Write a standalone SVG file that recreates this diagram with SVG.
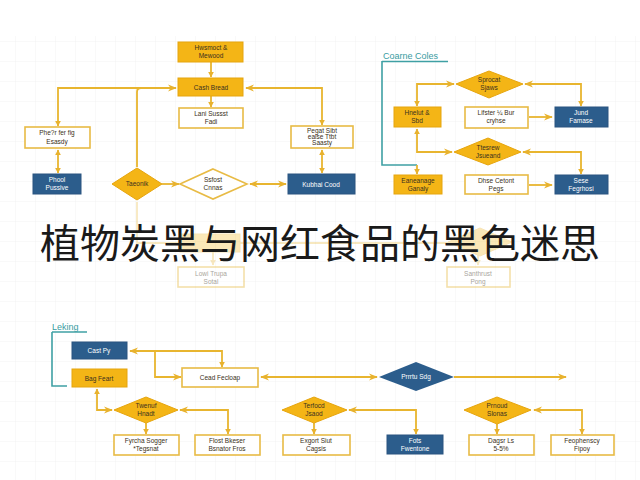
<svg xmlns="http://www.w3.org/2000/svg" width="640" height="480" viewBox="0 0 640 480">
<defs>
<pattern id="grid" width="20" height="20" patternUnits="userSpaceOnUse" x="-4" y="2">
<path d="M20 0 V20 M0 20 H20" fill="none" stroke="#f2f2f2" stroke-width="1"/>
</pattern>
<marker id="ah" viewBox="0 0 10 10" refX="9" refY="5" markerWidth="6" markerHeight="6" orient="auto-start-reverse" markerUnits="userSpaceOnUse">
<path d="M0 0 L10 5 L0 10 Z" fill="#E8B22E"/>
</marker>
<marker id="ahs" viewBox="0 0 10 10" refX="9" refY="5" markerWidth="9" markerHeight="9" orient="auto-start-reverse" markerUnits="userSpaceOnUse">
<path d="M0 1 L10 5 L0 9 L3 5 Z" fill="#E8B22E"/>
</marker>
</defs>
<style>
.ln{fill:none;stroke:#E8B52F;stroke-width:1.8}
.tl{fill:none;stroke:#3FA0A4;stroke-width:1.6}
.ob{fill:#F4B516;stroke:#E6A50E;stroke-width:1}
.wb{fill:#ffffff;stroke:#E8BB45;stroke-width:1.6}
.bb{fill:#2C5D8C;stroke:#2A5580;stroke-width:1}
.t{font-family:"Liberation Sans",Arial,sans-serif;font-size:6.5px;fill:#3a3020;text-anchor:middle}
.tw{font-family:"Liberation Sans",Arial,sans-serif;font-size:6.5px;fill:#ffffff;text-anchor:middle}
.lab{font-family:"Liberation Sans",Arial,sans-serif;font-size:9px;fill:#3A9CA2}
.title{font-family:"Noto Sans CJK SC","Noto Sans CJK TC",sans-serif;font-size:40px;fill:#1a1a1a;text-anchor:middle}
</style>
<rect width="640" height="480" fill="#ffffff"/>
<rect x="0" y="36" width="640" height="444" fill="url(#grid)"/>

<g id="connectors">
<path class="ln" d="M211 62 V77" marker-end="url(#ah)"/>
<path class="ln" d="M211 96 V107" marker-end="url(#ah)"/>
<path class="ln" d="M58 126 V88 H176" marker-start="url(#ah)" marker-end="url(#ahs)"/>
<path class="ln" d="M137 167 V92 Q137 88 141 88"/>
<path class="ln" d="M322 125 V88 H246" marker-start="url(#ah)" marker-end="url(#ahs)"/>
<path class="ln" d="M58 150 V173" marker-start="url(#ah)" marker-end="url(#ah)"/>
<path class="ln" d="M322 150 V173" marker-start="url(#ah)" marker-end="url(#ah)"/>
<path class="ln" d="M162 184 H179" marker-end="url(#ahs)"/>
<path class="ln" d="M250 184 H286" marker-start="url(#ahs)" marker-end="url(#ahs)"/>
<path class="tl" d="M382 61 V165 H417"/>
<path class="ln" d="M417 165 V174" marker-end="url(#ah)"/>
<path class="ln" d="M417 106 V84 H454" marker-start="url(#ah)" marker-end="url(#ahs)"/>
<path class="ln" d="M581 106 V84 H525" marker-start="url(#ah)" marker-end="url(#ahs)"/>
<path class="ln" d="M417 129 V152 H452" marker-start="url(#ah)" marker-end="url(#ahs)"/>
<path class="ln" d="M581 174 V152 H523" marker-start="url(#ah)" marker-end="url(#ahs)"/>
<path class="ln" d="M529 117 H552" marker-end="url(#ahs)"/>
<path class="ln" d="M529 185 H552" marker-end="url(#ahs)"/>
<path class="tl" d="M52 332 V386 H67"/>
<path class="ln" d="M222 367 V351 H130" marker-start="url(#ah)" marker-end="url(#ahs)"/>
<path class="ln" d="M155 351 V377 H181" marker-end="url(#ahs)"/>
<path class="ln" d="M261 377 H377" marker-start="url(#ahs)" marker-end="url(#ahs)"/>
<path class="ln" d="M454 377 H566" marker-end="url(#ahs)"/>
<path class="ln" d="M97 389 V410 H112" marker-start="url(#ah)" marker-end="url(#ahs)"/>
<path class="ln" d="M146 423 V434" marker-end="url(#ah)"/>
<path class="ln" d="M228 434 V410 H180" marker-start="url(#ah)" marker-end="url(#ahs)"/>
<path class="ln" d="M314 423 V434" marker-end="url(#ah)"/>
<path class="ln" d="M416 434 V410 H349" marker-start="url(#ah)" marker-end="url(#ahs)"/>
<path class="ln" d="M497 424 V434" marker-end="url(#ah)"/>
<path class="ln" d="M582 434 V410 H534" marker-start="url(#ah)" marker-end="url(#ahs)"/>
</g>

<g id="n-hemost"><rect class="ob" x="178" y="42" width="65" height="20"/><text class="t" x="211" y="50">Hwsmoct &amp;</text><text class="t" x="211" y="58">Mewood</text></g>
<g id="n-cash"><rect class="ob" x="178" y="78" width="65" height="18"/><text class="t" x="211" y="90" font-size="7.5">Cash Bread</text></g>
<g id="n-lani"><rect class="wb" x="179" y="108" width="64" height="20"/><text class="t" x="211" y="116">Lani Sussst</text><text class="t" x="211" y="124">Fadi</text></g>
<g id="n-phe"><rect class="wb" x="25" y="127" width="65" height="21"/><text class="t" x="57" y="135">Phe?r fer fig</text><text class="t" x="57" y="144">Esasdy</text></g>
<g id="n-phool"><rect class="bb" x="33" y="174" width="48" height="20"/><text class="tw" x="57" y="182">Phool</text><text class="tw" x="57" y="190">Pussive</text></g>
<g id="n-taeonik"><polygon class="ob" points="137,168 162,184 137,200 112,184"/><text class="t" x="137" y="186">Taeonik</text></g>
<g id="n-ssfost"><polygon class="wb" points="213,169 247,184 213,199 180,184"/><text class="t" x="213" y="182">Ssfost</text><text class="t" x="213" y="190">Cnnas</text></g>
<g id="n-kubhai"><rect class="bb" x="288" y="174" width="67" height="20"/><text class="tw" x="321" y="187" font-size="7">Kubhai Cood</text></g>
<g id="n-pegat"><rect class="wb" x="291" y="126" width="62" height="22"/><text class="t" x="322" y="133">Pegat Sibt</text><text class="t" x="322" y="139">ealse Ttbt</text><text class="t" x="322" y="145">Saasty</text></g>

<g id="lbl-coarne"><text class="lab" x="383" y="59">Coarne Coles</text><path class="tl" d="M382 61.5 H448"/></g>
<g id="n-sprocat"><polygon class="ob" points="489,71 523,84 489,98 456,84"/><text class="t" x="489" y="82">Sprocat</text><text class="t" x="489" y="90">Sjaws</text></g>
<g id="n-hnelut"><rect class="ob" x="394" y="107" width="47" height="20"/><text class="t" x="417" y="115">Hnelut &amp;</text><text class="t" x="417" y="123">Sbd</text></g>
<g id="n-lifster"><rect class="wb" x="465" y="107" width="63" height="21"/><text class="t" x="496" y="115">Lifster ¼ Bur</text><text class="t" x="496" y="123">cryhse</text></g>
<g id="n-jund"><rect class="bb" x="555" y="107" width="53" height="20"/><text class="tw" x="581" y="115">Jund</text><text class="tw" x="581" y="123">Famase</text></g>
<g id="n-ttesrew"><polygon class="ob" points="488,138 521,152 488,165 454,152"/><text class="t" x="488" y="150">Ttesrew</text><text class="t" x="488" y="158">Jsueand</text></g>
<g id="n-eanean"><rect class="ob" x="394" y="175" width="48" height="19"/><text class="t" x="418" y="183">Eaneanage</text><text class="t" x="418" y="191">Ganaly</text></g>
<g id="n-dhse"><rect class="wb" x="465" y="175" width="63" height="19"/><text class="t" x="496" y="183">Dhse Cetont</text><text class="t" x="496" y="191">Pegs</text></g>
<g id="n-sese"><rect class="bb" x="555" y="175" width="53" height="19"/><text class="tw" x="581" y="183">Sese</text><text class="tw" x="581" y="191">Fegrhosi</text></g>

<g id="faded" opacity="0.3">
<path class="ln" d="M137 202 V243 H470"/>
<path class="ln" d="M213 252 V265" marker-end="url(#ah)"/>
<path class="ln" d="M478 250 V265" marker-end="url(#ah)"/>
<rect class="ob" x="180" y="234" width="60" height="18"/>
<polygon class="ob" points="480,228 512,242 480,256 448,242"/>
</g>
<g id="n-lowi" opacity="0.45"><rect class="wb" x="178" y="267" width="66" height="20"/><text class="t" x="211" y="276">Lowi Trupa</text><text class="t" x="211" y="284">Sotal</text></g>
<g id="n-santh" opacity="0.45"><rect class="wb" x="447" y="267" width="63" height="20"/><text class="t" x="478" y="276">Santhrust</text><text class="t" x="478" y="284">Pong</text></g>

<g id="lbl-leking"><text class="lab" x="52" y="330">Leking</text><path class="tl" d="M52 332 H87"/></g>
<g id="n-cast"><rect class="bb" x="72" y="342" width="55" height="17"/><text class="tw" x="99" y="353" font-size="7">Cast Py</text></g>
<g id="n-bag"><rect class="ob" x="72" y="369" width="55" height="18"/><text class="t" x="99" y="381" font-size="7">Bag Feart</text></g>
<g id="n-cead"><rect class="wb" x="182" y="368" width="76" height="19"/><text class="t" x="220" y="380" font-size="7.5">Cead Fecloap</text></g>
<g id="n-prrrtu"><polygon points="416,362 454,377 416,391 379,377" fill="#2C5D8C"/><text class="tw" x="416" y="379">Prrrtu Sdg</text></g>
<g id="n-twenuf"><polygon class="ob" points="146,397 178,410 146,423 114,410"/><text class="t" x="146" y="408">Twenuf</text><text class="t" x="146" y="416">Hnadt</text></g>
<g id="n-fyrcha"><rect class="wb" x="114" y="435" width="65" height="20"/><text class="t" x="146" y="443">Fyrcha Sogger</text><text class="t" x="146" y="451">*Tegsnat</text></g>
<g id="n-flost"><rect class="wb" x="195" y="435" width="65" height="20"/><text class="t" x="227" y="443">Flost Bkeser</text><text class="t" x="227" y="451">Bsnator Fros</text></g>
<g id="n-terfocd"><polygon class="ob" points="314,397 347,410 314,423 282,410"/><text class="t" x="314" y="408">Terfocd</text><text class="t" x="314" y="416">Jsaod</text></g>
<g id="n-exgort"><rect class="wb" x="283" y="435" width="67" height="20"/><text class="t" x="316" y="443">Exgort Siut</text><text class="t" x="316" y="451">Cagsis</text></g>
<g id="n-fots"><rect class="bb" x="387" y="435" width="56" height="19"/><text class="tw" x="415" y="443">Fots</text><text class="tw" x="415" y="451">Fwentone</text></g>
<g id="n-prnoud"><polygon class="ob" points="497,397 531,410 497,424 464,410"/><text class="t" x="497" y="408">Prnoud</text><text class="t" x="497" y="416">Slonas</text></g>
<g id="n-dagsr"><rect class="wb" x="469" y="435" width="65" height="20"/><text class="t" x="501" y="443">Dagsr Ls</text><text class="t" x="501" y="451">5-5%</text></g>
<g id="n-feoph"><rect class="wb" x="551" y="435" width="63" height="20"/><text class="t" x="582" y="443">Feophenscy</text><text class="t" x="582" y="451">Fipoy</text></g>

<g id="title"><text class="title" x="320" y="258">植物炭黑与网红食品的黑色迷思</text></g>
</svg>
